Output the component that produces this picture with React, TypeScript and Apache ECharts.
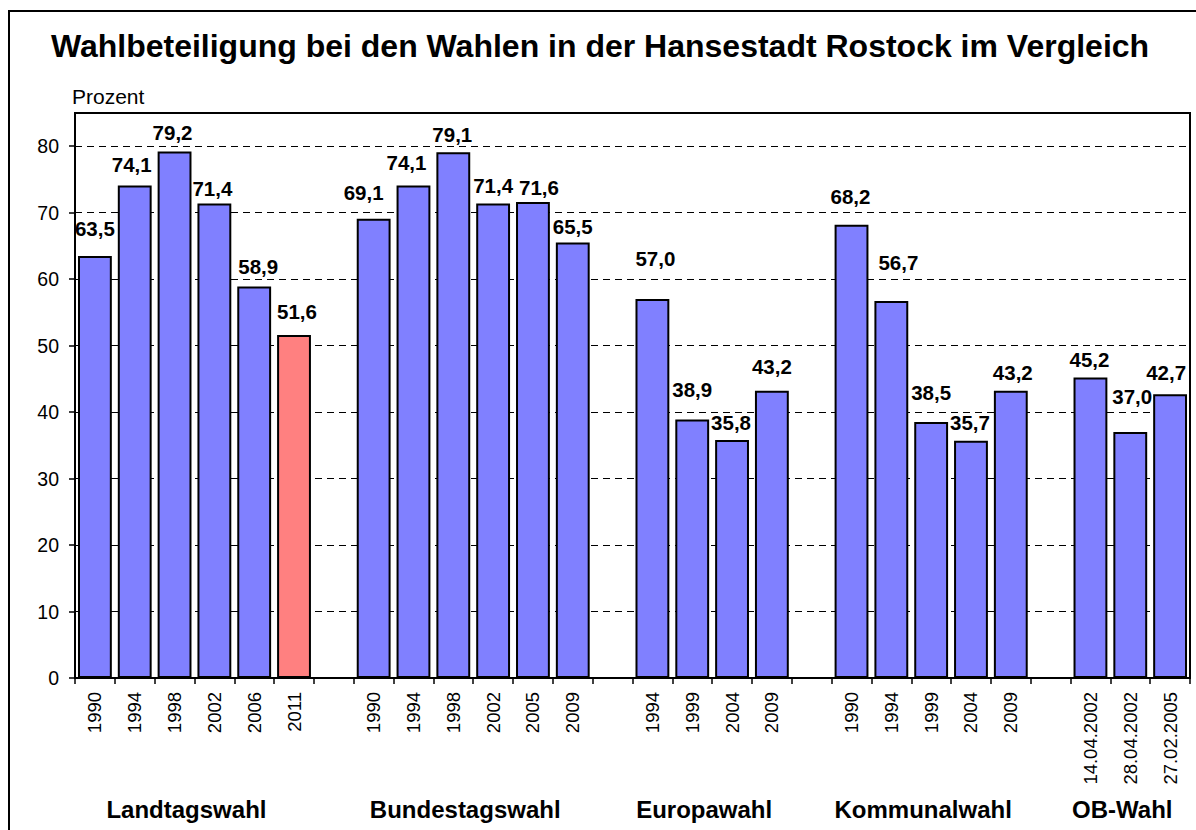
import React, { useEffect, useRef } from "react";
import * as echarts from "echarts";

const FONT = "'Liberation Sans', Arial, Helvetica, sans-serif";

const titleText = "Wahlbeteiligung bei den Wahlen in der Hansestadt Rostock im Vergleich";
const yAxisName = "Prozent";

const groupNames = ["Landtagswahl", "Bundestagswahl", "Europawahl", "Kommunalwahl", "OB-Wahl"];

const landtagLabels = ["1990", "1994", "1998", "2002", "2006", "2011"];
const landtagValues = [63.5, 74.1, 79.2, 71.4, 58.9, 51.6];

const bundestagLabels = ["1990", "1994", "1998", "2002", "2005", "2009"];
const bundestagValues = [69.1, 74.1, 79.1, 71.4, 71.6, 65.5];

const europaLabels = ["1994", "1999", "2004", "2009"];
const europaValues = [57.0, 38.9, 35.8, 43.2];

const kommunalLabels = ["1990", "1994", "1999", "2004", "2009"];
const kommunalValues = [68.2, 56.7, 38.5, 35.7, 43.2];

const obLabels = ["14.04.2002", "28.04.2002", "27.02.2005"];
const obValues = [45.2, 37.0, 42.7];

const yTicks = [0, 10, 20, 30, 40, 50, 60, 70, 80];
const yMax = 85;

// highlighted bar: Landtagswahl 2011
const highlightGroup = 0;
const highlightIndex = 5;

// manual nudges of the value labels (dx, dy from bar top centre), as placed in the original
const labelNudges = [
  [[0, -27], [-3, -21], [-2, -19], [-2, -15], [4, -20], [3, -24]],
  [[-10, -26], [-7, -23], [-1, -18], [0, -18], [6, -15], [0, -16]],
  [[3, -41], [0, -30], [-1, -18], [0, -24]],
  [[-1, -28], [7, -39], [0, -30], [-1, -18], [2, -18]],
  [[-1, -18], [2, -36], [-4, -22]],
];

const BLUE = "#8080FF";
const RED = "#FF8080";

export default function App() {
  const ref = useRef<HTMLDivElement>(null);

  useEffect(() => {
    if (!ref.current) return;
    const chart = echarts.init(ref.current, null, { renderer: "svg" });

    const groups = [
      { labels: landtagLabels, values: landtagValues },
      { labels: bundestagLabels, values: bundestagValues },
      { labels: europaLabels, values: europaValues },
      { labels: kommunalLabels, values: kommunalValues },
      { labels: obLabels, values: obValues },
    ];

    const categories: string[] = [];
    const data: any[] = [];
    const ranges: [number, number][] = [];
    groups.forEach((g, gi) => {
      if (gi > 0) {
        categories.push("");
        data.push(null);
      }
      const start = categories.length;
      g.labels.forEach((lab, i) => {
        categories.push(lab);
        const nudge = labelNudges[gi][i];
        data.push({
          value: g.values[i],
          itemStyle: { color: gi === highlightGroup && i === highlightIndex ? RED : BLUE },
          label: { offset: nudge },
        });
      });
      ranges.push([start, categories.length - 1]);
    });

    chart.setOption({
      animation: false,
      backgroundColor: "#fff",
      textStyle: { fontFamily: FONT },
      grid: {
        left: 75,
        right: 6,
        top: 113,
        bottom: 152,
        containLabel: false,
        show: true,
        borderColor: "#000",
        borderWidth: 2,
        backgroundColor: "transparent",
      },
      xAxis: {
        type: "category",
        data: categories,
        boundaryGap: true,
        axisLine: { show: true, lineStyle: { color: "#000", width: 2 } },
        axisTick: { show: true, interval: 0, length: 6, lineStyle: { color: "#000", width: 1.5 } },
        axisLabel: {
          interval: 0,
          rotate: 90,
          margin: 14,
          fontSize: 18.5,
          color: "#000",
          fontFamily: FONT,
        },
        splitLine: { show: false },
      },
      yAxis: {
        type: "value",
        min: 0,
        max: yMax,
        interval: 10,
        axisLine: { show: true, lineStyle: { color: "#000", width: 2 } },
        axisTick: {
          show: true,
          length: 6,
          customValues: yTicks,
          lineStyle: { color: "#000", width: 1.5 },
        },
        axisLabel: {
          customValues: yTicks,
          fontSize: 19.5,
          color: "#000",
          margin: 16,
          fontFamily: FONT,
          formatter: (v: number) => (v > 80 ? "" : String(v)),
        },
        splitLine: { show: true, lineStyle: { color: "#000", type: [7, 5], width: 1 } },
      },
      series: [
        {
          type: "bar",
          data,
          barCategoryGap: "15%",
          itemStyle: { borderColor: "#000", borderWidth: 2 },
          label: {
            show: true,
            position: "top",
            distance: 0,
            verticalAlign: "middle",
            fontSize: 20.5,
            fontWeight: "bold",
            color: "#000",
            fontFamily: FONT,
            formatter: (p: any) => Number(p.value).toFixed(1).replace(".", ","),
          },
        },
      ],
    });

    const groupGraphics = ranges.map((r, gi) => {
      const x0 = chart.convertToPixel({ xAxisIndex: 0 }, r[0]) as number;
      const x1 = chart.convertToPixel({ xAxisIndex: 0 }, r[1]) as number;
      return {
        type: "text",
        x: (x0 + x1) / 2 - 8,
        y: 809,
        style: {
          text: groupNames[gi],
          fill: "#000",
          font: `bold 24px ${FONT}`,
          textAlign: "center",
          textVerticalAlign: "middle",
        },
      };
    });

    chart.setOption({
      graphic: [
        {
          type: "rect",
          shape: { x: 9, y: 11, width: 1200, height: 840 },
          style: { fill: "none", stroke: "#000", lineWidth: 2 },
        },
        {
          type: "text",
          x: 600,
          y: 46,
          style: {
            text: titleText,
            fill: "#000",
            font: `bold 32px ${FONT}`,
            textAlign: "center",
            textVerticalAlign: "middle",
          },
        },
        {
          type: "text",
          x: 72,
          y: 96,
          style: {
            text: yAxisName,
            fill: "#000",
            font: `21px ${FONT}`,
            textAlign: "left",
            textVerticalAlign: "middle",
          },
        },
        ...groupGraphics,
      ],
    });

    return () => chart.dispose();
  }, []);

  return (
    <div
      ref={ref}
      style={{ position: "fixed", left: 0, top: 0, width: 1196, height: 830, background: "#fff" }}
    />
  );
}
